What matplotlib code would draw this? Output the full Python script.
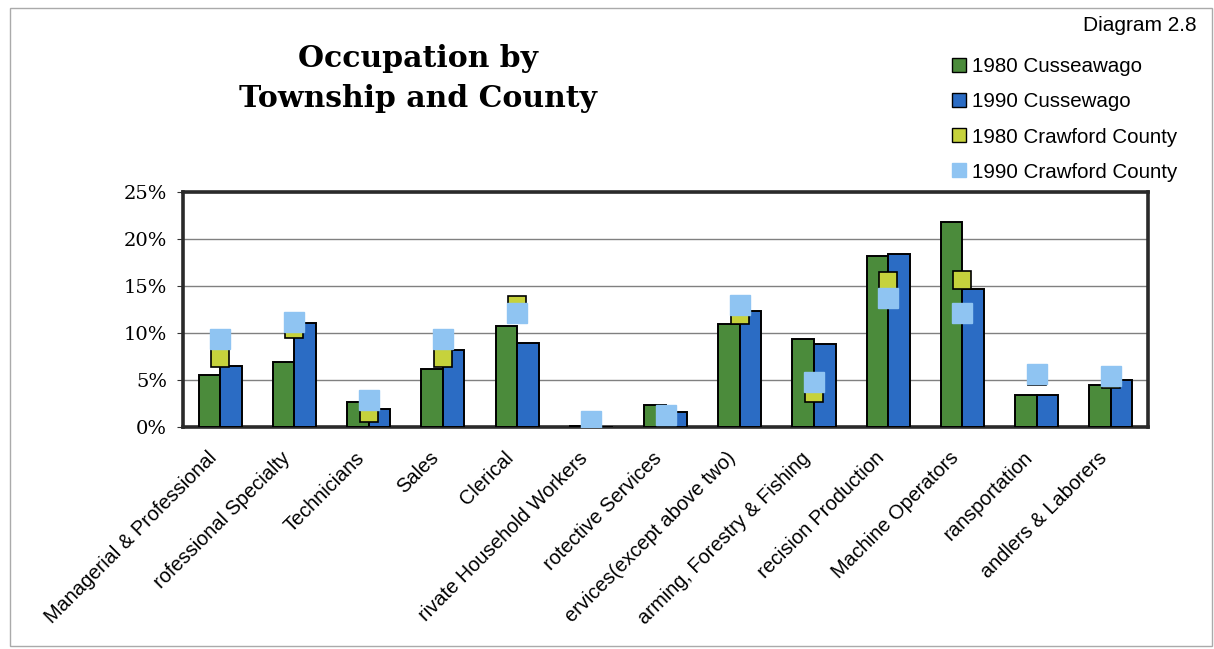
import numpy as np
import matplotlib
matplotlib.use("Agg")
import matplotlib.pyplot as plt
from matplotlib.patches import Rectangle
from matplotlib.lines import Line2D

# ================================
# Data (percent of employed persons)
# ================================
categories = [
    "Managerial & Professional", "rofessional Specialty", "Technicians", "Sales",
    "Clerical", "rivate Household Workers", "rotective Services",
    "ervices(except above two)", "arming, Forestry & Fishing", "recision Production",
    "Machine Operators", "ransportation", "andlers & Laborers",
]
cuss_1980 = [5.5, 6.9, 2.7, 6.2, 10.8, 0.1, 2.3, 11.0, 9.4, 18.2, 21.8, 3.4, 4.5]
cuss_1990 = [6.5, 11.1, 1.9, 8.2, 8.9, 0.0, 1.6, 12.3, 8.8, 18.4, 14.7, 3.4, 5.0]
craw_1980 = [7.4, 10.4, 1.5, 7.4, 13.0, 0.5, 1.2, 11.9, 3.6, 15.5, 15.7, 5.4, 5.1]
craw_1990 = [9.4, 11.2, 2.9, 9.4, 12.1, 0.6, 1.3, 13.0, 4.8, 13.7, 12.1, 5.6, 5.4]
yticks = [0, 5, 10, 15, 20, 25]

GREEN = "#4b8b3b"
BLUE = "#2b6cc4"
YELLOW = "#c6d23c"
LIGHT = "#8fc4f2"

fig = plt.figure(figsize=(12.14, 6.49), dpi=100)
ax = fig.add_axes([0.1507, 0.342, 0.795, 0.362])

# ================================
# Bars and markers
# ================================
x = np.arange(len(categories))
w = 0.29
ax.bar(x - w / 2, cuss_1980, w, color=GREEN, edgecolor="black", linewidth=1.4, zorder=3)
ax.bar(x + w / 2, cuss_1990, w, color=BLUE, edgecolor="black", linewidth=1.4, zorder=3)
ax.plot(x, craw_1980, ls="none", marker="s", ms=13.5, mfc=YELLOW, mec="black", mew=1.2, zorder=4)
ax.plot(x, craw_1990, ls="none", marker="s", ms=14.5, mfc=LIGHT, mec=LIGHT, zorder=5)

ax.set_xlim(-0.5, len(categories) - 0.5)
ax.set_ylim(0, 25)
ax.set_yticks(yticks)
ax.set_yticklabels([f"{t}%" for t in yticks], family="DejaVu Serif", fontsize=14)
ax.yaxis.grid(True, color="#808080", linewidth=1.0, zorder=0)
ax.set_axisbelow(True)

ax.set_xticks(x)
ax.set_xticklabels(categories, rotation=45, ha="right", va="bottom", rotation_mode="anchor",
                   family="Liberation Sans", fontsize=14.4)
ax.tick_params(axis="x", length=0, pad=25)
ax.tick_params(axis="y", length=4, pad=7.5, color="#333333")
for side in ["top", "left", "bottom", "right"]:
    ax.spines[side].set_linewidth(2.6)
    ax.spines[side].set_color("#2a2a2a")

# ================================
# Title and caption
# ================================
fig.text(0.344, 0.91, "Occupation by", ha="center", va="center",
         family="DejaVu Serif", fontweight="bold", fontsize=21.5)
fig.text(0.344, 0.848, "Township and County", ha="center", va="center",
         family="DejaVu Serif", fontweight="bold", fontsize=21.5)
fig.text(0.986, 0.961, "Diagram 2.8", ha="right", va="center",
         family="Liberation Sans", fontsize=15)

# ================================
# Legend
# ================================
handles = [
    Line2D([], [], ls="none", marker="s", ms=10, mfc=GREEN, mec="black"),
    Line2D([], [], ls="none", marker="s", ms=10, mfc=BLUE, mec="black"),
    Line2D([], [], ls="none", marker="s", ms=10, mfc=YELLOW, mec="black"),
    Line2D([], [], ls="none", marker="s", ms=10, mfc=LIGHT, mec=LIGHT),
]
labels = ["1980 Cusseawago", "1990 Cussewago", "1980 Crawford County", "1990 Crawford County"]
fig.legend(handles, labels, loc="upper left", bbox_to_anchor=(0.766, 0.94),
           frameon=False, prop={"family": "Liberation Sans", "size": 14.8},
           handletextpad=0.15, labelspacing=0.78, handlelength=1.0)

# outer frame
fig.patches.append(Rectangle((0.008, 0.005), 0.99, 0.982, transform=fig.transFigure,
                             fill=False, edgecolor="#aaaaaa", linewidth=1.0))

fig.savefig("out.png", dpi=100)
